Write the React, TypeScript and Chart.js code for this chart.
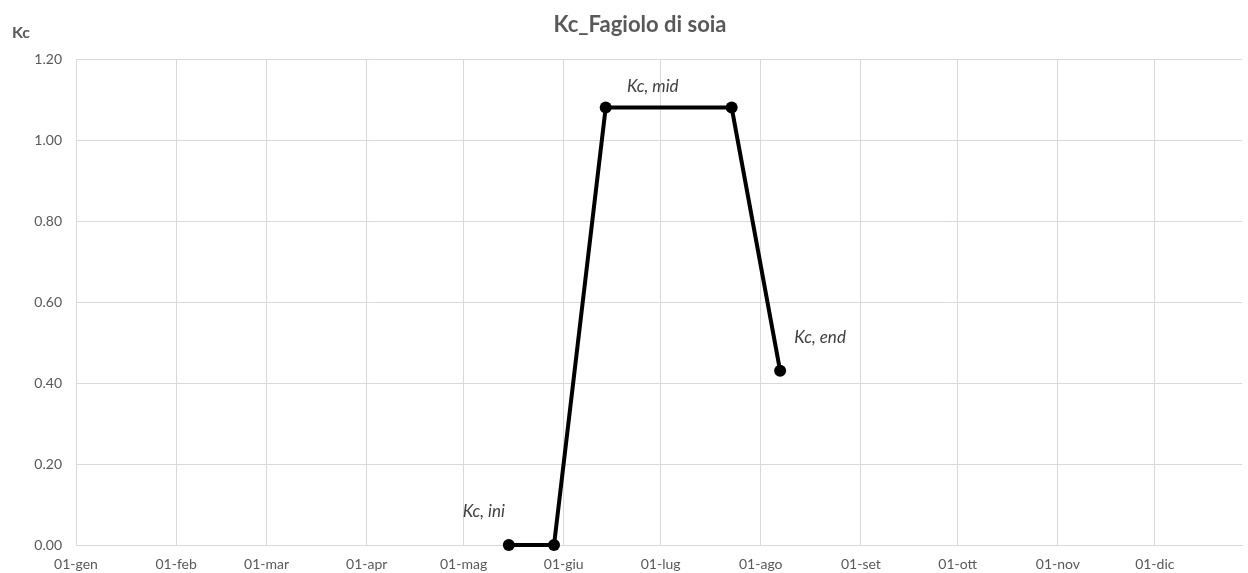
import React, { useEffect, useRef } from "react";
import { Chart, registerables } from "chart.js";

Chart.register(...registerables);

// ---- data ----
const chartTitle = "Kc_Fagiolo di soia";
const yAxisTitle = "Kc";
const monthLabels = ["01-gen", "01-feb", "01-mar", "01-apr", "01-mag", "01-giu", "01-lug", "01-ago", "01-set", "01-ott", "01-nov", "01-dic"];
const monthStartDays = [0, 31, 59, 90, 120, 151, 181, 212, 243, 273, 304, 334];
const stageDays = [134, 148, 164, 203, 218];
const kcValues = [0, 0, 1.08, 1.08, 0.43];
const annotationTexts = ["Kc, ini", "Kc, mid", "Kc, end"];
const annotationPointIndex = [0, 2, 4];

// ---- styles ----
const FONT = "Lato, 'Open Sans', sans-serif";
const GRID = "#d9d9d9";
const TEXT = "#595959";
const annotationOffsets = [
  { dx: -25, dy: -33 },
  { dx: 47, dy: -21 },
  { dx: 40, dy: -33 },
];

const textPlugin = {
  id: "excelText",
  afterDatasetsDraw(chart: any) {
    const ctx = chart.ctx;
    ctx.save();
    ctx.textAlign = "center";
    ctx.textBaseline = "middle";
    // title
    ctx.fillStyle = TEXT;
    ctx.font = `bold 22px ${FONT}`;
    ctx.fillText(chartTitle, 640, 25);
    // y axis title
    ctx.font = `bold 16px ${FONT}`;
    ctx.fillText(yAxisTitle, 21, 33);
    // annotations
    const meta = chart.getDatasetMeta(0);
    ctx.fillStyle = "#404040";
    ctx.font = `italic 17px ${FONT}`;
    annotationTexts.forEach((t, i) => {
      const el = meta.data[annotationPointIndex[i]];
      if (!el) return;
      const o = annotationOffsets[i];
      ctx.fillText(t, el.x + o.dx, el.y + o.dy);
    });
    ctx.restore();
  },
};

export default function App() {
  const ref = useRef<HTMLCanvasElement | null>(null);
  useEffect(() => {
    if (!ref.current) return;
    const chart = new Chart(ref.current, {
      type: "line",
      data: {
        datasets: [
          {
            data: stageDays.map((d, i) => ({ x: d, y: kcValues[i] })),
            borderColor: "#000000",
            backgroundColor: "#000000",
            borderWidth: 4,
            pointRadius: 6,
            pointBorderWidth: 0,
            pointBackgroundColor: "#000000",
            tension: 0,
            clip: false,
          },
        ],
      },
      options: {
        animation: false,
        responsive: true,
        maintainAspectRatio: false,
        layout: { padding: { top: 59, left: 0, right: 0, bottom: 0 } },
        plugins: {
          legend: { display: false },
          title: { display: false },
          tooltip: { enabled: false },
        },
        scales: {
          x: {
            type: "linear",
            min: 0,
            max: 361,
            afterBuildTicks: (scale: any) => {
              scale.ticks = monthStartDays.map((v) => ({ value: v }));
            },
            afterFit: (scale: any) => {
              scale.height = 28;
            },
            ticks: {
              autoSkip: false,
              maxRotation: 0,
              padding: 11,
              color: TEXT,
              font: { family: FONT, size: 14 },
              callback: (v: any) => {
                const i = monthStartDays.indexOf(Number(v));
                return i >= 0 ? monthLabels[i] : "";
              },
            },
            grid: { color: GRID, lineWidth: 1, drawTicks: false },
            border: { color: GRID, width: 1 },
          },
          y: {
            min: 0,
            max: 1.2,
            afterFit: (scale: any) => {
              scale.width = 76;
            },
            ticks: {
              stepSize: 0.2,
              padding: 14,
              color: TEXT,
              font: { family: FONT, size: 14 },
              callback: (v: any) => Number(v).toFixed(2),
            },
            grid: { color: GRID, lineWidth: 1, drawTicks: false },
            border: { color: GRID, width: 1 },
          },
        },
      },
      plugins: [textPlugin],
    } as any);
    return () => chart.destroy();
  }, []);
  return (
    <div style={{ position: "fixed", left: 0, top: 0, width: 1248, height: 573, background: "#fff" }}>
      <canvas ref={ref} />
    </div>
  );
}
